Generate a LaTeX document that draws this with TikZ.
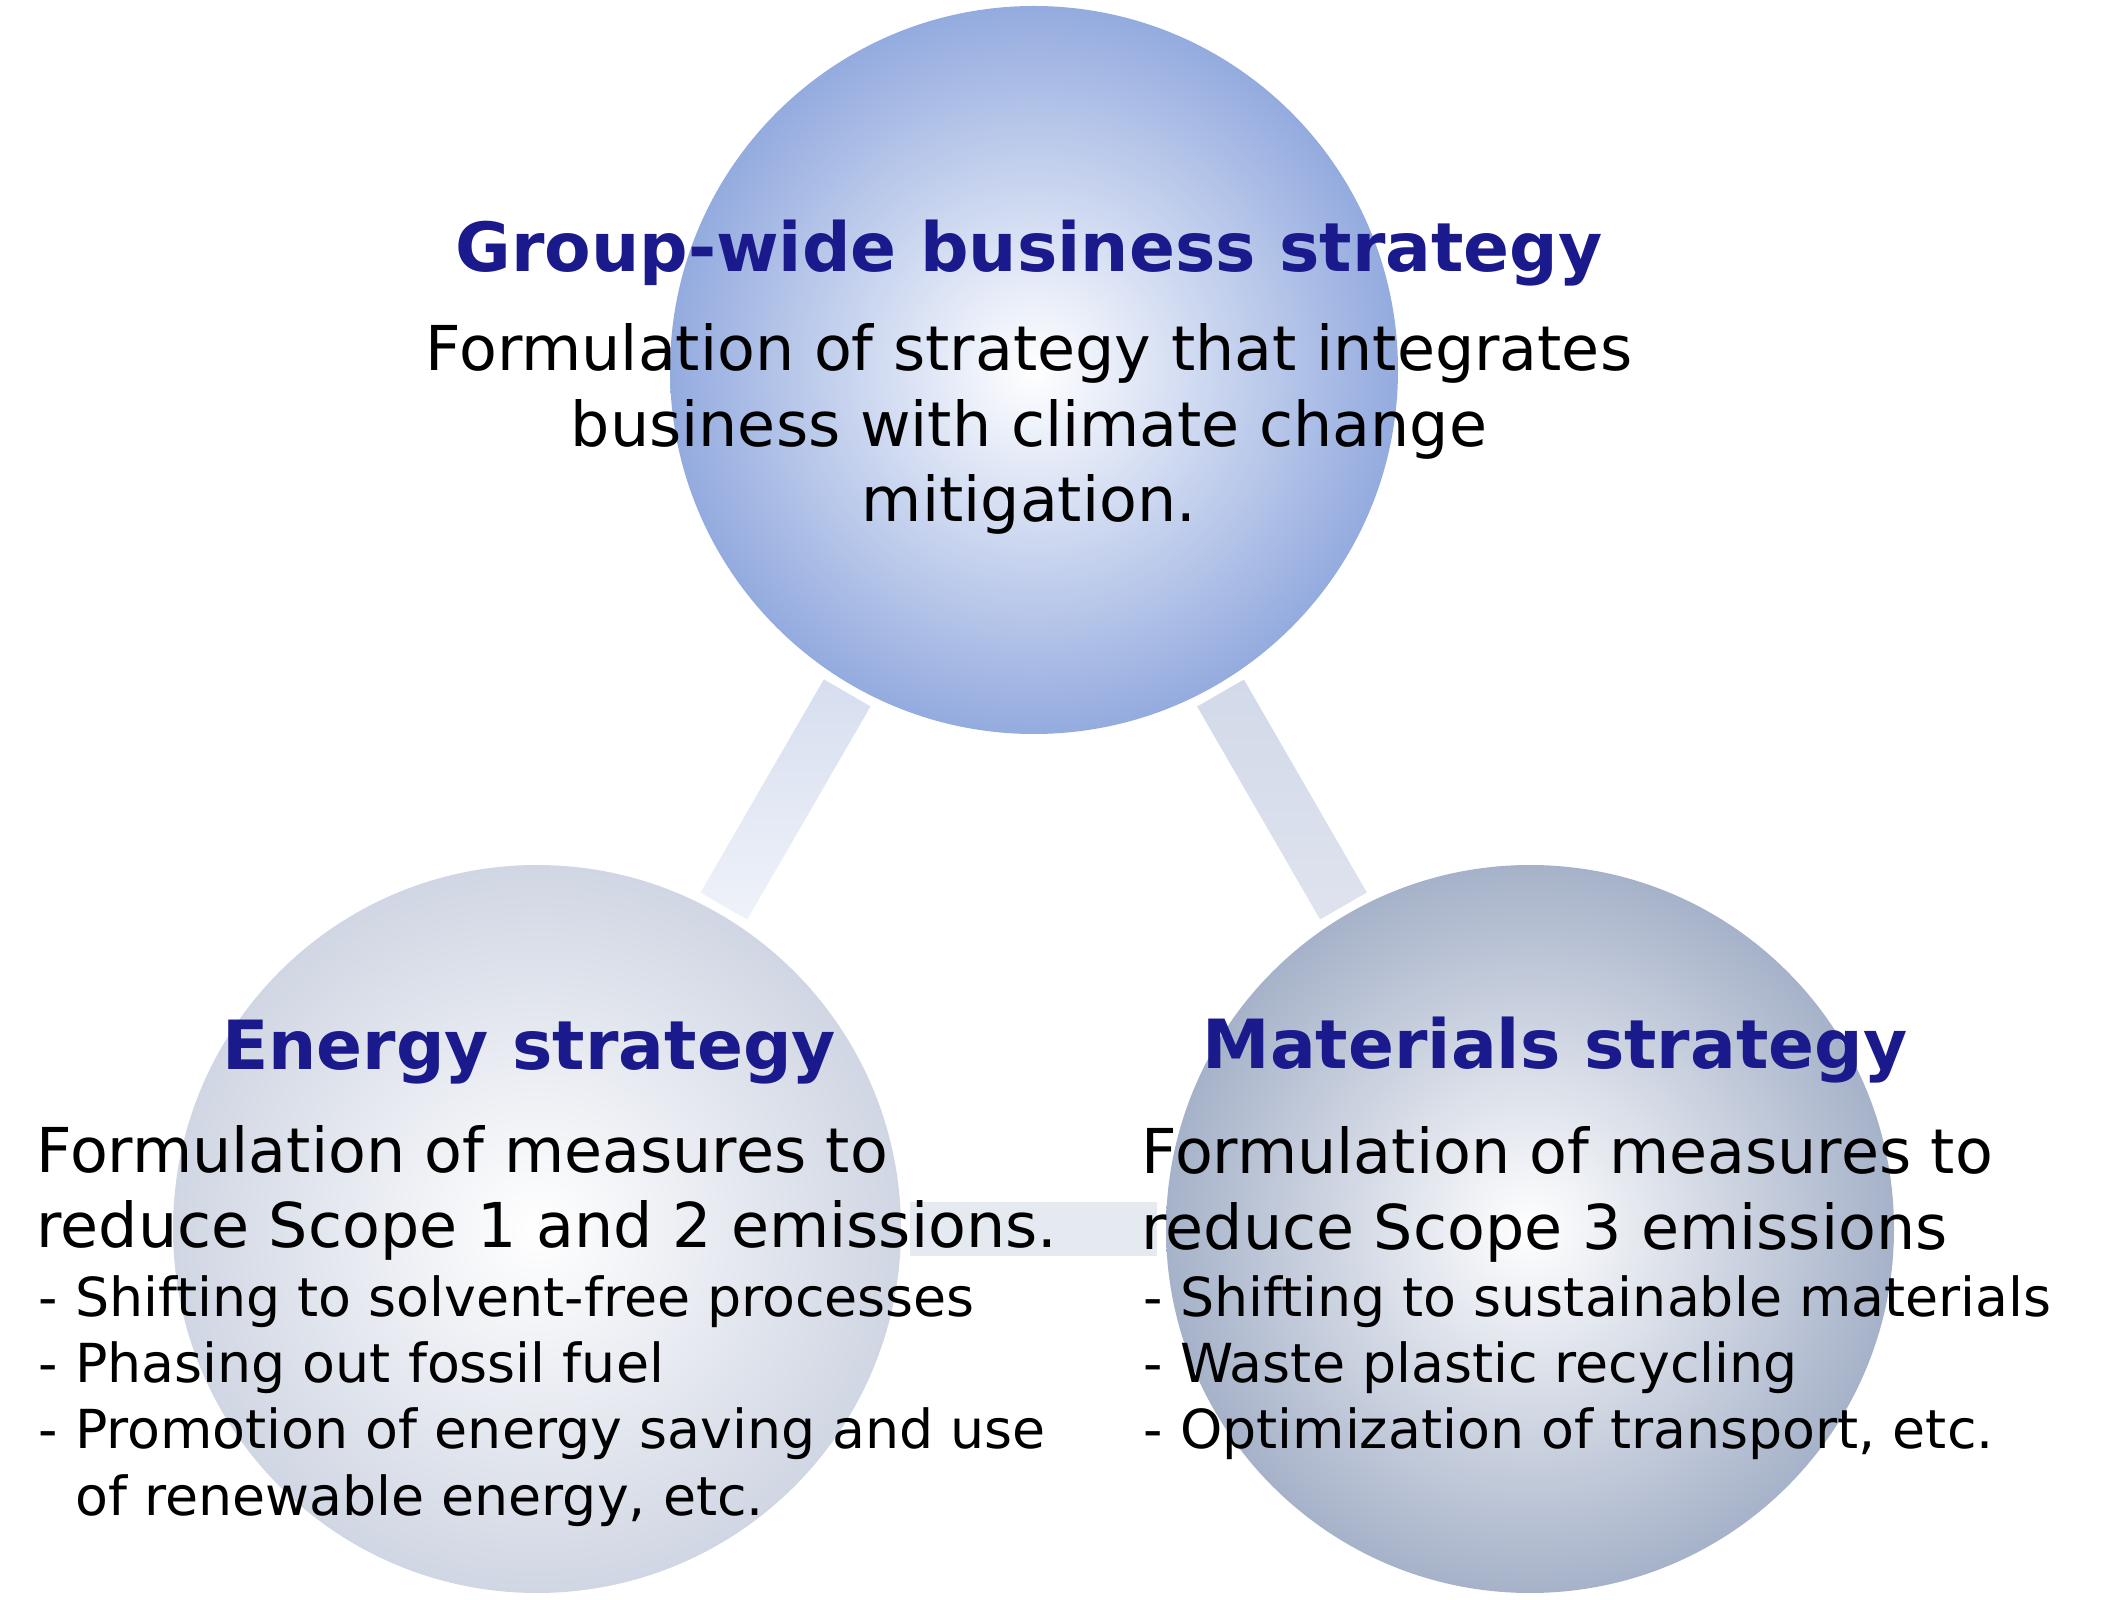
\documentclass[tikz,border=0pt]{standalone}
\usepackage{fontspec}
\setmainfont{DejaVu Sans}
\usepackage{tikz}
\usetikzlibrary{calc}
\usepackage{xcolor}
\definecolor{navy}{RGB}{26,26,140}
\definecolor{topblue}{RGB}{148,171,223}
\definecolor{leftgrey}{RGB}{208,214,227}
\definecolor{rightgrey}{RGB}{166,178,201}
\definecolor{barA}{RGB}{214,222,239}
\definecolor{barB}{RGB}{239,242,249}
\definecolor{barC}{RGB}{210,217,232}
\definecolor{barD}{RGB}{222,227,238}
\definecolor{barE}{RGB}{229,233,240}
\tikzset{
  ball/.style={circle, minimum size=7.28cm, inner sep=0pt, inner color=white},
  headline/.style={font=\fontsize{19.3}{23}\selectfont\bfseries, text=navy, inner sep=0pt, anchor=base},
  bodytext/.style={font=\fontsize{17.6}{21.6}\selectfont, inner sep=0pt},
  bullets/.style={font=\fontsize{15.3}{18.8}\selectfont, inner sep=0pt, align=left, anchor=base west}
}

\begin{document}
\begin{tikzpicture}
        \useasboundingbox (0,0) rectangle (21.12,-16);
        % Circles
        \node[ball, outer color=topblue] (top) at (10.34,-3.70) {};
        \node[ball, outer color=leftgrey] (left) at (5.37,-12.29) {};
        \node[ball, outer color=rightgrey] (right) at (15.30,-12.29) {};
        % Bars between circles
        \coordinate (tl1) at ($(top)!3.73cm!(left)$);
        \coordinate (tl2) at ($(left)!3.73cm!(top)$);
        \shade[top color=barA, bottom color=barB] ($(tl1)!0.27cm!90:(tl2)$) -- ($(tl1)!0.27cm!-90:(tl2)$) -- ($(tl2)!0.27cm!90:(tl1)$) -- ($(tl2)!0.27cm!-90:(tl1)$) -- cycle;
        \coordinate (tr1) at ($(top)!3.73cm!(right)$);
        \coordinate (tr2) at ($(right)!3.73cm!(top)$);
        \shade[top color=barC, bottom color=barD] ($(tr1)!0.27cm!90:(tr2)$) -- ($(tr1)!0.27cm!-90:(tr2)$) -- ($(tr2)!0.27cm!90:(tr1)$) -- ($(tr2)!0.27cm!-90:(tr1)$) -- cycle;
        \coordinate (lr1) at ($(left)!3.73cm!(right)$);
        \coordinate (lr2) at ($(right)!3.73cm!(left)$);
        \fill[barE] ($(lr1)!0.27cm!90:(lr2)$) -- ($(lr1)!0.27cm!-90:(lr2)$) -- ($(lr2)!0.27cm!90:(lr1)$) -- ($(lr2)!0.27cm!-90:(lr1)$) -- cycle;
        % Group-wide
        \node[headline] (toptitle) at (10.29,-2.72) {Group-wide business strategy};
        \node[bodytext, align=center, anchor=base] (topbody) at (10.29,-5.22)
          {Formulation of strategy that integrates\\ business with climate change\\ mitigation.};
        % Energy
        \node[headline] (lefttitle) at (5.29,-10.70) {Energy strategy};
        \node[bodytext, align=left, anchor=base west] (leftbody) at (0.36,-12.48)
          {Formulation of measures to\\ reduce Scope 1 and 2 emissions.};
        \node[bullets] (leftlist) at (0.38,-15.15)
          {- Shifting to solvent-free processes\\ - Phasing out fossil fuel\\ - Promotion of energy saving and use\\ \hphantom{- }of renewable energy, etc.};
        % Materials
        \node[headline] (righttitle) at (15.55,-10.69) {Materials strategy};
        \node[bodytext, align=left, anchor=base west] (rightbody) at (11.41,-12.49)
          {Formulation of measures to\\ reduce Scope 3 emissions};
        \node[bullets] (rightlist) at (11.43,-14.49)
          {- Shifting to sustainable materials\\ - Waste plastic recycling\\ - Optimization of transport, etc.};
    \end{tikzpicture}
\end{document}
